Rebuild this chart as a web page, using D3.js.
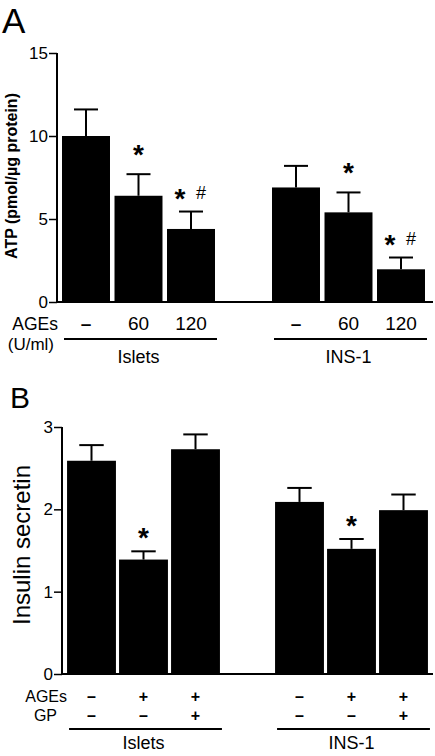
<!DOCTYPE html>
<html><head><meta charset="utf-8">
<script src="https://cdn.jsdelivr.net/npm/d3@7"></script>
<style>body{margin:0;background:#fff}svg{display:block;font-family:"Liberation Sans",Arial,sans-serif}</style>
</head><body><svg id="c" width="435" height="756"></svg>
<script>
// Panel A data
const catsA = ["i0","i1","i2","gap","n0","n1","n2"];
const barKeysA = ["i0","i1","i2","n0","n1","n2"];
const atpMean = [10.0, 6.4, 4.4, 6.9, 5.4, 1.97];
const atpErr  = [11.6, 7.7, 5.45, 8.2, 6.6, 2.68];
const atpMarks = ["", "*", "* #", "", "*", "* #"];
const agesLabelsA = ["–", "60", "120", "–", "60", "120"];
const ticksA = [0, 5, 10, 15];
// Panel B data
const barKeysB = ["i0","i1","i2","n0","n1","n2"];
const insMean = [2.59, 1.39, 2.73, 2.09, 1.52, 1.99];
const insErr  = [2.78, 1.49, 2.91, 2.26, 1.64, 2.18];
const insMarks = ["", "*", "", "", "*", ""];
const agesB = ["–", "+", "+", "–", "+", "+"];
const gpB   = ["–", "–", "+", "–", "–", "+"];
const ticksB = [0, 1, 2, 3];
const groups = ["Islets", "INS-1"];

const svg = d3.select("#c");

function panel(o) {
  const g = svg.append("g");
  const x = d3.scaleBand().domain(catsA).range(o.xr).paddingInner(o.pad).paddingOuter(o.pad/2);
  const y = d3.scaleLinear().domain(o.ydom).range(o.yr);
  const bw = x.bandwidth();
  g.selectAll("rect.bar").data(o.mean).join("rect")
    .attr("x", (d,i)=>x(o.keys[i])).attr("width", bw)
    .attr("y", d=>y(d)).attr("height", d=>y(0)-y(d)).attr("fill","#000");
  g.selectAll("line.ev").data(o.err).join("line")
    .attr("x1",(d,i)=>x(o.keys[i])+bw/2).attr("x2",(d,i)=>x(o.keys[i])+bw/2)
    .attr("y1",(d,i)=>y(o.mean[i])).attr("y2",d=>y(d)).attr("stroke","#000").attr("stroke-width",2);
  g.selectAll("line.ec").data(o.err).join("line")
    .attr("x1",(d,i)=>x(o.keys[i])+bw/4).attr("x2",(d,i)=>x(o.keys[i])+bw*3/4)
    .attr("y1",d=>y(d)).attr("y2",d=>y(d)).attr("stroke","#000").attr("stroke-width",2);
  const ya = g.append("g").attr("transform",`translate(${o.axisX},0)`)
    .call(d3.axisLeft(y).tickValues(o.ticks).tickSize(8).tickPadding(1).tickFormat(d3.format("d")));
  ya.select(".domain").attr("stroke-width",2).attr("d",`M0,${o.yr[1]}V${o.yr[0]}`);
  ya.selectAll(".tick line").attr("stroke-width",1.5);
  ya.selectAll("text").attr("font-size",o.tickSize).attr("fill","#000").attr("font-family","Liberation Sans, Arial");
  g.append("line").attr("x1",o.axisX).attr("x2",433).attr("y1",y(0)).attr("y2",y(0)).attr("stroke","#000").attr("stroke-width",2);
  o.marks.forEach((m,i)=>{
    if(!m) return;
    const cx = x(o.keys[i])+bw/2;
    if (m === "*") {
      const ty = y(o.err[i]) - o.markOff;
      g.append("text").attr("x",cx).attr("y",ty).attr("text-anchor","middle").attr("font-size",28).attr("font-weight","bold").text("*");
    } else {
      const ty = y(o.err[i]) - o.markOff2;
      g.append("text").attr("x",cx-11).attr("y",ty).attr("text-anchor","middle").attr("font-size",28).attr("font-weight","bold").text("*");
      g.append("text").attr("x",cx+10).attr("y",ty-9).attr("text-anchor","middle").attr("font-size",18).attr("fill","#000").text("#");
    }
  });
  g.append("text").attr("transform",`translate(${o.ylx},${o.yly}) rotate(-90)`).attr("text-anchor","middle")
    .attr("font-size",o.ylSize).attr("font-weight",o.ylWeight).text(o.ylabel);
  g.append("text").attr("x",o.letterX).attr("y",o.letterY).attr("font-size",o.letterSize).text(o.letter);
  const grpKeys = [["i0","i2"],["n0","n2"]];
  grpKeys.forEach((k,j)=>{
    const x1 = x(k[0]) + o.lineIn, x2 = x(k[1]) + bw + o.lineOut;
    g.append("line").attr("x1",x1).attr("x2",x2).attr("y1",o.lineY).attr("y2",o.lineY).attr("stroke","#000").attr("stroke-width",2);
    g.append("text").attr("x",(x(k[0])+x(k[1])+bw)/2).attr("y",o.lineY+o.grpDy).attr("text-anchor","middle").attr("font-size",18).text(groups[j]);
  });
  return {x, y, g, bw};
}

// Panel A
const A = panel({xr:[59.75,427.25], pad:0.086, ydom:[0,15], yr:[302,53], keys:barKeysA,
  mean:atpMean, err:atpErr, marks:atpMarks, ticks:ticksA, axisX:57, markOff:10, markOff2:4, tickSize:17,
  ylabel:"ATP (pmol/µg protein)", ylx:17, yly:176, ylSize:16, ylWeight:"bold",
  letter:"A", letterX:2, letterY:33, letterSize:35, lineY:339, lineIn:2, lineOut:2, grpDy:24});
agesLabelsA.forEach((t,i)=>{
  A.g.append("text").attr("x",A.x(barKeysA[i])+A.bw/2).attr("y",330).attr("text-anchor","middle")
    .attr("font-size",19).attr("font-weight", t==="–"?"bold":"normal").text(t);
});
A.g.append("text").attr("x",58).attr("y",330).attr("text-anchor","end").attr("font-size",17.5).text("AGEs");
A.g.append("text").attr("x",54).attr("y",350).attr("text-anchor","end").attr("font-size",17).text("(U/ml)");

// Panel B
const B = panel({xr:[65.5,429.5], pad:0.06, ydom:[0,3], yr:[674,427], keys:barKeysB,
  mean:insMean, err:insErr, marks:insMarks, ticks:ticksB, axisX:62, markOff:4, markOff2:4, tickSize:17,
  ylabel:"Insulin secretin", ylx:30, yly:545, ylSize:24, ylWeight:"normal",
  letter:"B", letterX:10, letterY:408, letterSize:30, lineY:729, lineIn:2, lineOut:2, grpDy:20});
agesB.forEach((t,i)=>{
  B.g.append("text").attr("x",B.x(barKeysB[i])+B.bw/2).attr("y",702).attr("text-anchor","middle")
    .attr("font-size",16).attr("font-weight","bold").text(t);
});
gpB.forEach((t,i)=>{
  B.g.append("text").attr("x",B.x(barKeysB[i])+B.bw/2).attr("y",721).attr("text-anchor","middle")
    .attr("font-size",16).attr("font-weight","bold").text(t);
});
B.g.append("text").attr("x",67).attr("y",702).attr("text-anchor","end").attr("font-size",16).text("AGEs");
B.g.append("text").attr("x",57).attr("y",721).attr("text-anchor","end").attr("font-size",16).text("GP");
</script></body></html>
